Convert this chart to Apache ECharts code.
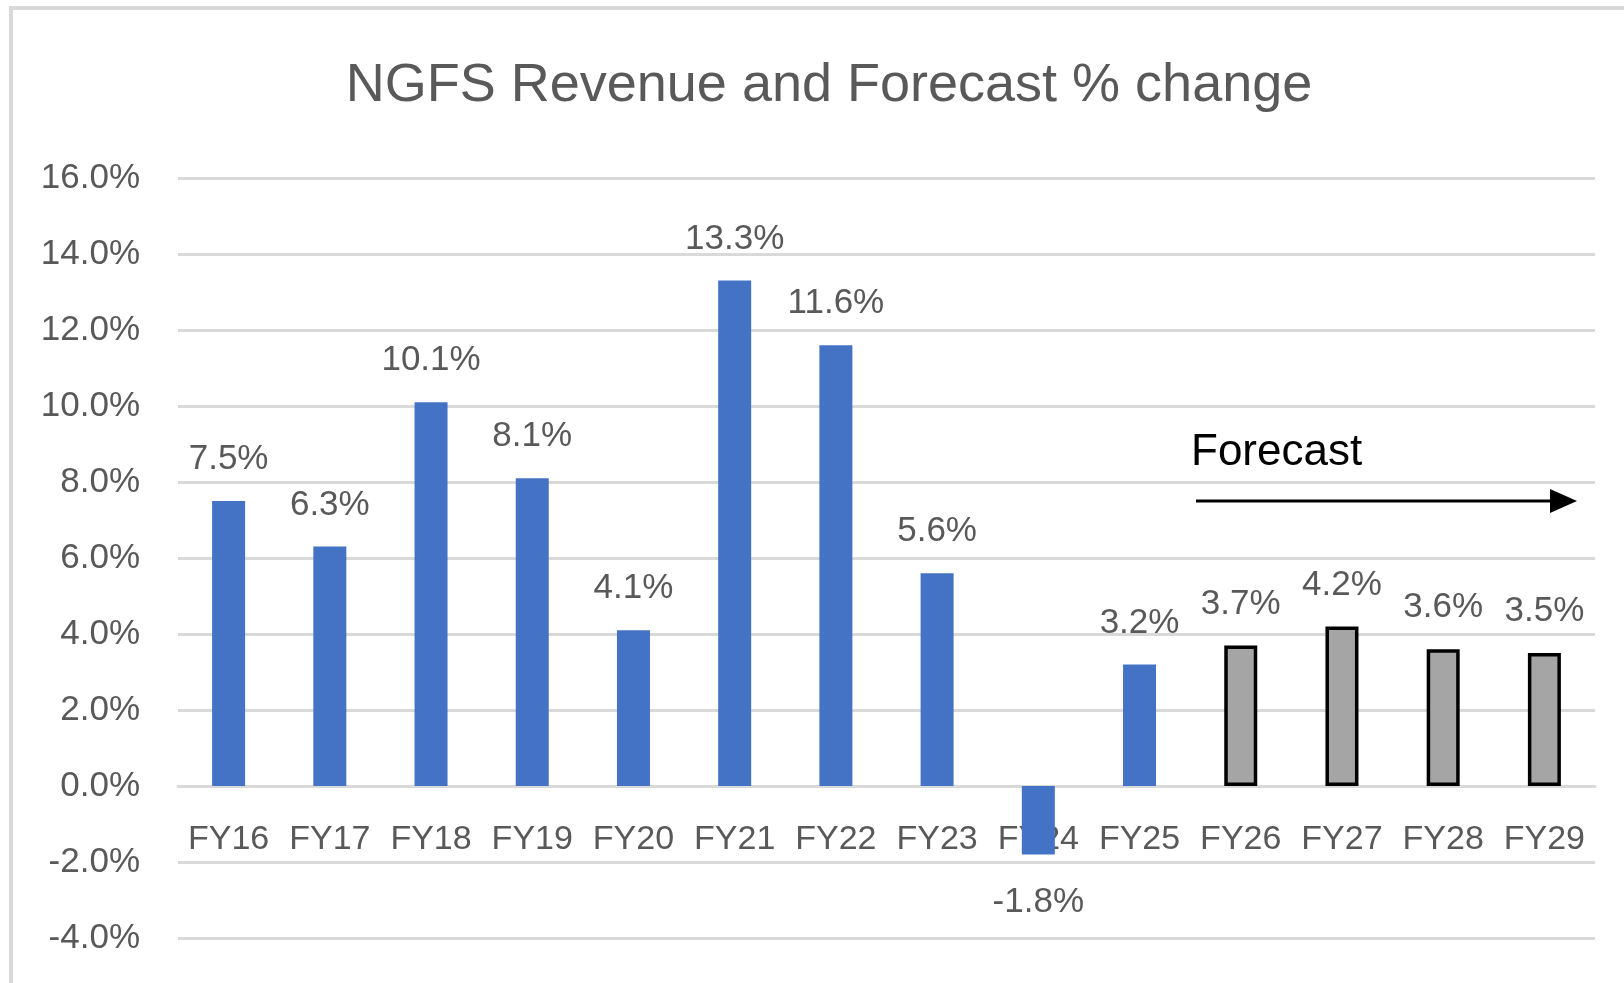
<!DOCTYPE html>
<html>
<head>
<meta charset="utf-8">
<title>NGFS Revenue and Forecast % change</title>
<script src="https://cdn.jsdelivr.net/npm/echarts@6/dist/echarts.min.js"></script>
<style>
  html, body { margin: 0; padding: 0; background: #fff; }
  #chart { width: 1624px; height: 983px; }
</style>
</head>
<body>
<div id="chart"></div>
<script>
// data
const categories = ['FY16', 'FY17', 'FY18', 'FY19', 'FY20', 'FY21', 'FY22', 'FY23', 'FY24', 'FY25', 'FY26', 'FY27', 'FY28', 'FY29']
const changePct = [7.5, 6.3, 10.1, 8.1, 4.1, 13.3, 11.6, 5.6, -1.8, 3.2, 3.7, 4.2, 3.6, 3.5]
const isForecast = [false, false, false, false, false, false, false, false, false, false, true, true, true, true]
const yTicks = { min: -4, max: 16, interval: 2 }

const FONT = '"Liberation Sans", Arial, sans-serif'
const TEXT = '#595959'

const GRID = { left: 178, right: 29, top: 178, bottom: 45 }
const gridHeight = 983 - GRID.top - GRID.bottom
// category labels sit under the 0% line, not under the plot bottom
const zeroOffset = -(0 - yTicks.min) / (yTicks.max - yTicks.min) * gridHeight

const chart = echarts.init(document.getElementById('chart'))

const barData = changePct.map((v, i) => ({
  value: v,
  itemStyle: isForecast[i]
    ? { color: '#a5a5a5', borderColor: '#000', borderWidth: 3.5 }
    : { color: '#4472c4' },
  label: v < 0 ? { position: 'bottom', distance: 30 } : { position: 'top' }
}))

const option = {
  backgroundColor: '#fff',
  animation: false,
  title: {
    text: 'NGFS Revenue and Forecast % change',
    left: 829,
    top: 59,
    padding: 0,
    textAlign: 'center',
    textStyle: {
      fontFamily: FONT,
      fontSize: 54,
      fontWeight: 'normal',
      color: TEXT
    }
  },
  grid: {
    ...GRID,
    containLabel: false,
    outerBoundsMode: 'none'
  },
  xAxis: {
    type: 'category',
    data: categories,
    offset: zeroOffset,
    axisLine: { show: true, onZero: false, lineStyle: { color: '#d9d9d9', width: 3 } },
    axisTick: { show: false },
    axisLabel: {
      color: TEXT,
      fontFamily: FONT,
      fontSize: 34,
      margin: 37,
      interval: 0
    }
  },
  yAxis: {
    type: 'value',
    min: yTicks.min,
    max: yTicks.max,
    interval: yTicks.interval,
    axisLine: { show: false },
    axisTick: { show: false },
    splitLine: { lineStyle: { color: '#d9d9d9', width: 3 } },
    axisLabel: {
      color: TEXT,
      fontFamily: FONT,
      fontSize: 35,
      margin: 38,
      formatter: (v) => v.toFixed(1) + '%'
    }
  },
  series: [
    {
      type: 'bar',
      data: barData,
      barWidth: 33,
      label: {
        show: true,
        distance: 24,
        color: TEXT,
        fontFamily: FONT,
        fontSize: 35,
        formatter: (p) => p.value.toFixed(1) + '%'
      }
    }
  ],
  graphic: [
    {
      // chart frame
      type: 'rect',
      shape: { x: 11, y: 8, width: 1700, height: 1100 },
      style: { fill: 'none', stroke: '#d9d9d9', lineWidth: 4 },
      z: 10
    },
    {
      type: 'text',
      left: 1191,
      top: 431,
      style: {
        text: 'Forecast',
        fill: '#000',
        font: '44px ' + FONT
      },
      z: 10
    },
    {
      type: 'line',
      shape: { x1: 1196, y1: 501, x2: 1552, y2: 501 },
      style: { stroke: '#000', lineWidth: 3 },
      z: 10
    },
    {
      type: 'polygon',
      shape: { points: [[1550, 489], [1577, 501], [1550, 513]] },
      style: { fill: '#000' },
      z: 10
    }
  ]
}

chart.setOption(option)

window.addEventListener('resize', () => {
  chart.resize()
})
</script>
</body>
</html>
